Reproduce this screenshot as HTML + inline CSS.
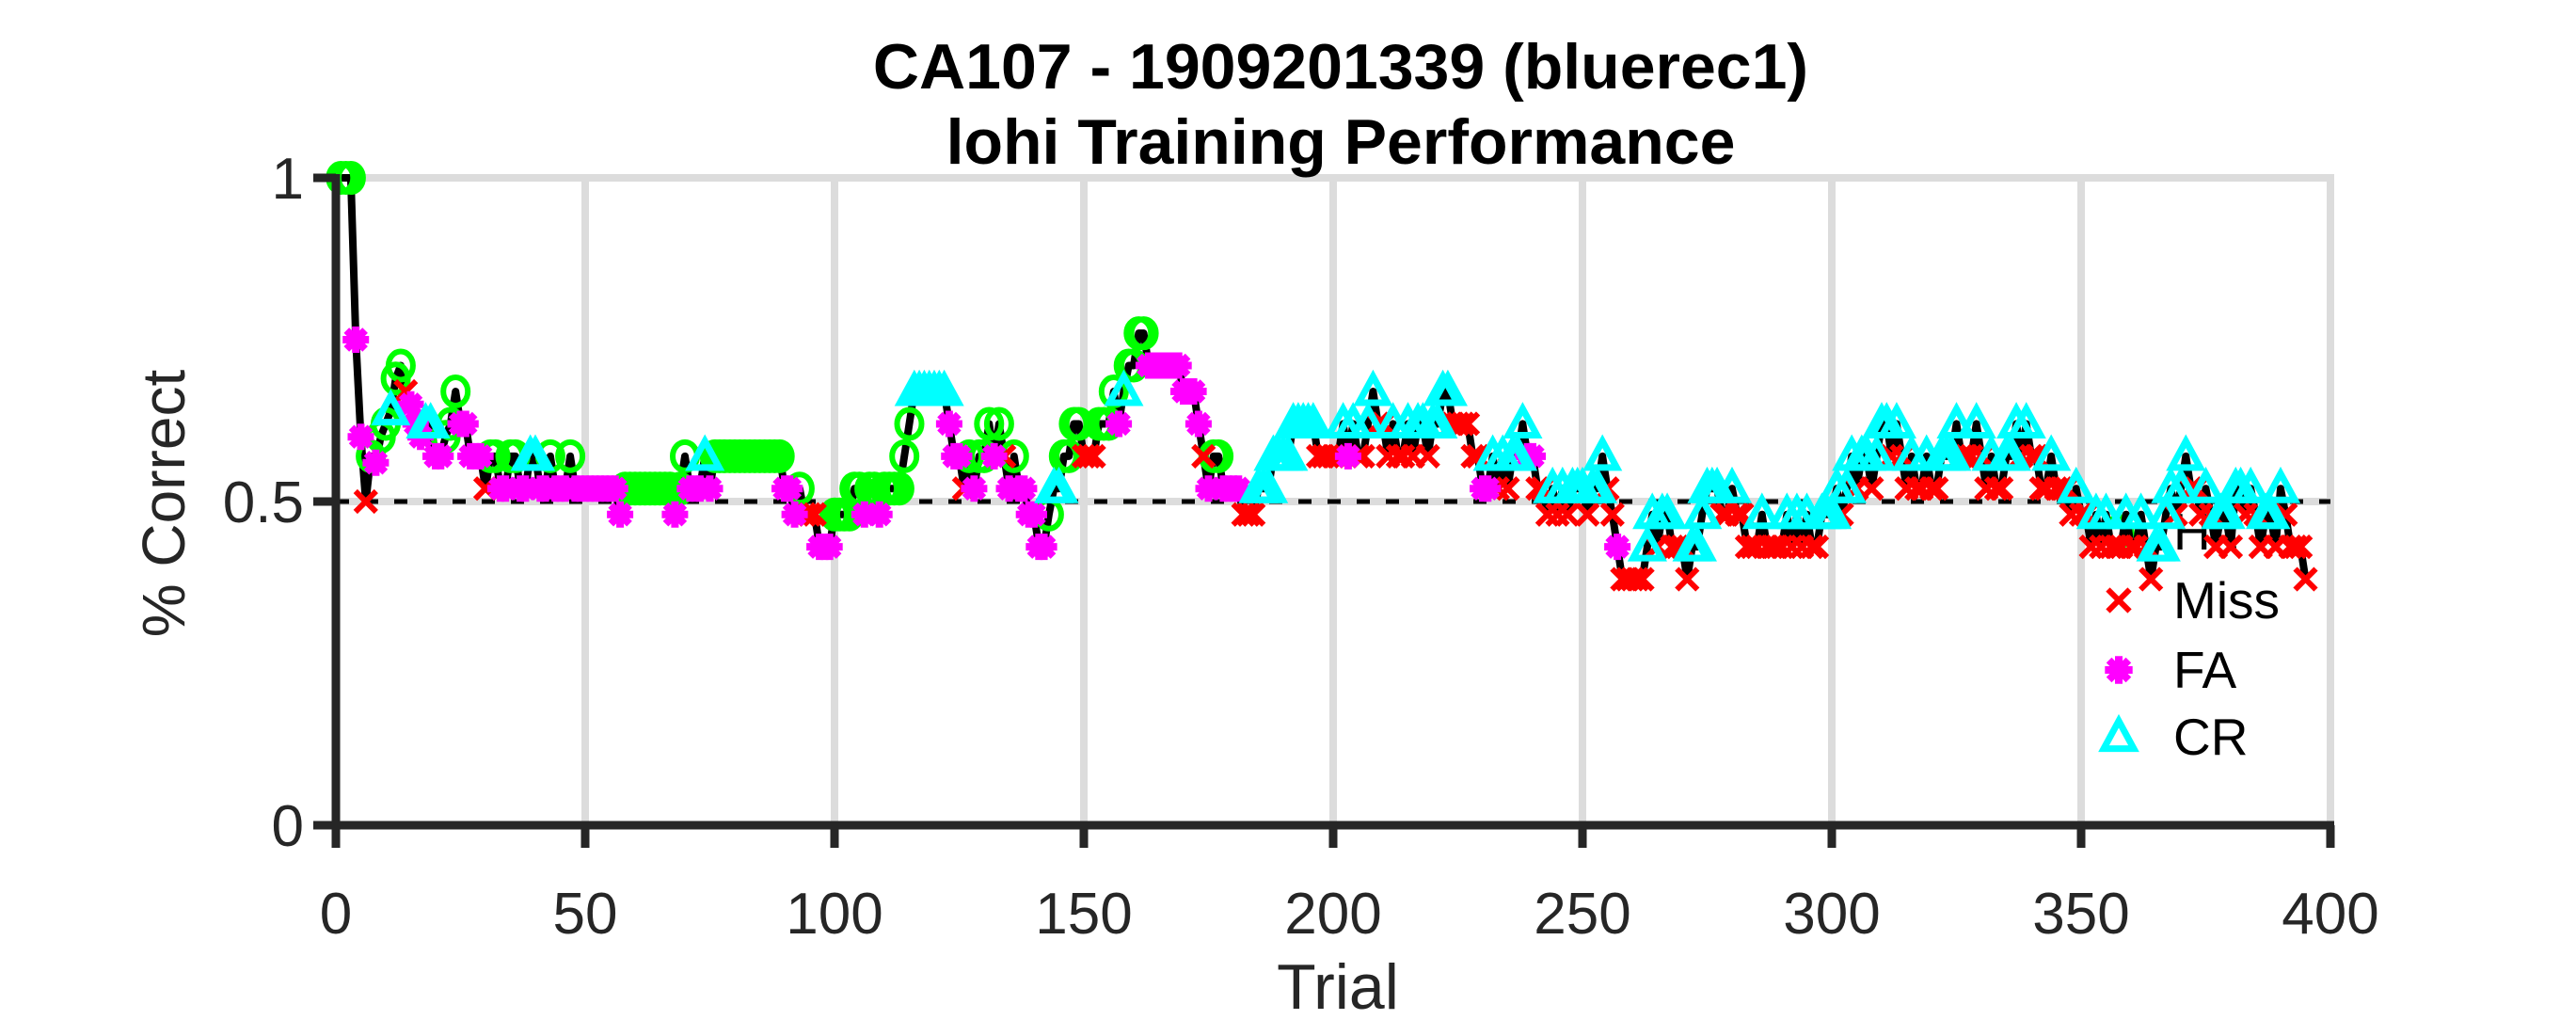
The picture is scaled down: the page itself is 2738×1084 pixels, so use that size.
<!DOCTYPE html>
<html><head><meta charset="utf-8"><style>
html,body{margin:0;padding:0;background:#fff;}
svg{display:block;}
text{font-family:"Liberation Sans",Arial,sans-serif;}
</style></head><body>
<svg id="chart" width="2738" height="1084" viewBox="0 0 2738 1084" xmlns="http://www.w3.org/2000/svg">
<rect x="0" y="0" width="2738" height="1084" fill="#fff"/>
<g id="grid"></g>
<g id="legend"></g>
<g id="data"></g>
<g id="axes"></g>
<text x="1425" y="94" text-anchor="middle" font-size="68" font-weight="bold" fill="#000">CA107 - 1909201339 (bluerec1)</text>
<text x="1425" y="174" text-anchor="middle" font-size="68" font-weight="bold" fill="#000">lohi Training Performance</text>
<text transform="translate(196,535) rotate(-90)" text-anchor="middle" font-size="64" fill="#262626">% Correct</text>
<text x="1422" y="1072" text-anchor="middle" font-size="68" fill="#262626">Trial</text>
</svg>
<script>
const xTicks = [0,50,100,150,200,250,300,350,400];
const yTicks = [0,0.5,1];
const yTickLabels = ["0","0.5","1"];
const legendLabels = ["Hit","Miss","FA","CR"];
const pctCorrect = [
1,1,1,.75,.6,.5,.57,.56,.6,.62,.64,.69,.71,.67,.65,.62,.6,.62,.62,.57,
.57,.6,.62,.67,.62,.62,.57,.57,.57,.52,.57,.57,.52,.52,.57,.57,.52,.52,.57,.57,
.52,.52,.57,.52,.52,.52,.57,.52,.52,.52,.52,.52,.52,.52,.52,.52,.48,.52,.52,.52,
.52,.52,.52,.52,.52,.52,.52,.48,.52,.57,.52,.52,.52,.57,.52,.57,.57,.57,.57,.57,
.57,.57,.57,.57,.57,.57,.57,.57,.57,.52,.52,.48,.52,.48,.48,.48,.43,.43,.43,.48,
.48,.48,.48,.52,.52,.48,.52,.52,.48,.52,.52,.52,.52,.57,.62,.67,.67,.67,.67,.67,
.67,.67,.62,.57,.57,.52,.57,.52,.57,.57,.62,.57,.62,.57,.52,.57,.52,.52,.48,.48,
.43,.43,.48,.52,.52,.57,.57,.62,.62,.57,.57,.57,.62,.62,.62,.67,.62,.67,.71,.71,
.76,.76,.71,.71,.71,.71,.71,.71,.71,.67,.67,.67,.62,.57,.52,.57,.57,.52,.52,.52,
.52,.48,.48,.48,.52,.52,.52,.57,.57,.57,.57,.62,.62,.62,.62,.62,.57,.57,.57,.57,
.57,.62,.57,.62,.57,.57,.62,.67,.62,.62,.57,.62,.57,.57,.62,.57,.62,.62,.57,.62,
.62,.67,.67,.62,.62,.62,.62,.57,.57,.52,.52,.57,.52,.57,.52,.57,.57,.62,.57,.57,
.52,.52,.48,.52,.48,.52,.48,.52,.52,.52,.48,.52,.52,.57,.52,.48,.43,.38,.38,.38,
.38,.38,.43,.48,.43,.48,.48,.43,.43,.43,.38,.43,.43,.48,.52,.52,.52,.48,.48,.52,
.48,.48,.43,.43,.43,.48,.43,.43,.43,.43,.48,.43,.48,.43,.48,.43,.43,.48,.48,.48,
.52,.48,.52,.57,.52,.57,.57,.52,.57,.62,.62,.57,.62,.57,.52,.57,.52,.52,.57,.52,
.52,.57,.57,.57,.62,.57,.57,.57,.62,.57,.52,.57,.52,.52,.57,.57,.62,.57,.62,.57,
.57,.52,.52,.57,.52,.52,.52,.48,.52,.48,.48,.43,.48,.43,.48,.43,.43,.43,.48,.43,
.43,.48,.43,.38,.43,.43,.48,.52,.48,.52,.57,.52,.52,.48,.52,.48,.43,.48,.48,.43,
.52,.52,.48,.52,.48,.43,.48,.48,.43,.52,.48,.43,.43,.43,.38
];
const chanceLevel = [0.5];

const NS = "http://www.w3.org/2000/svg";
const X0 = 357, X1 = 2477, Y0 = 877, Y1 = 189;
function xs(t){ return X0 + (t - 0) / (400 - 0) * (X1 - X0); }
function ys(v){ return Y0 - v * (Y0 - Y1); }
function mk(tag, attrs, parent){
  const e = document.createElementNS(NS, tag);
  for (const k in attrs) e.setAttribute(k, attrs[k]);
  parent.appendChild(e);
  return e;
}
const grid = document.getElementById('grid');
const axes = document.getElementById('axes');
const dataG = document.getElementById('data');
const legend = document.getElementById('legend');

xTicks.forEach(function(t){
  if (t === 0) return;
  const l = mk('line', {x1: xs(t), x2: xs(t), y1: Y1, y2: Y0, stroke: '#dcdcdc', 'stroke-width': 8}, grid);
  
  
});
yTicks.forEach(function(v){
  if (v === 0) return;
  const l = mk('line', {x1: X0, x2: X1 + 4, y1: ys(v), y2: ys(v), stroke: '#dcdcdc', 'stroke-width': 8}, grid);
  
  
});
chanceLevel.forEach(function(v){
  const l = mk('line', {x1: X0, x2: X1, y1: ys(v), y2: ys(v), stroke: '#000', 'stroke-width': 5, 'stroke-dasharray': '14 17'}, grid);
  
  
});

function drawMarker(type, cx, cy, parent, s){
  s = s || 1;
  let m;
  if (type === 'H') {
    m = mk('ellipse', {cx: cx, cy: cy, rx: 13*s, ry: 15*s, fill: 'none', stroke: '#00ff00', 'stroke-width': 6}, parent);
  } else if (type === 'M') {
    const d = 11*s;
    m = mk('path', {d: 'M'+(cx-d)+' '+(cy-d)+'L'+(cx+d)+' '+(cy+d)+'M'+(cx-d)+' '+(cy+d)+'L'+(cx+d)+' '+(cy-d), stroke: '#ff0000', 'stroke-width': 6, fill: 'none'}, parent);
  } else if (type === 'F') {
    const r = 14*s;
    let d = '';
    for (let k = 0; k < 4; k++) {
      const a = k * Math.PI / 4;
      d += 'M'+(cx-r*Math.cos(a))+' '+(cy-r*Math.sin(a))+'L'+(cx+r*Math.cos(a))+' '+(cy+r*Math.sin(a));
    }
    m = mk('path', {d: d, stroke: '#ff00ff', 'stroke-width': 8, fill: 'none'}, parent);
  } else {
    const r = 16*s;
    m = mk('polygon', {points: cx+','+(cy-r)+' '+(cx+r*0.95)+','+(cy+r*0.75)+' '+(cx-r*0.95)+','+(cy+r*0.75), fill: 'none', stroke: '#00ffff', 'stroke-width': 7}, parent);
  }
  return m;
}

const outcomes = [];
pctCorrect.forEach(function(v, i){
  const prev = i === 0 ? 0 : pctCorrect[i-1];
  const late = i >= 178;
  let o;
  if (v > prev) o = late ? 'C' : (i % 7 === 3 ? 'C' : 'H');
  else if (v < prev) o = late ? (i % 9 === 4 && i < 260 ? 'F' : 'M') : (i % 8 === 5 ? 'M' : 'F');
  else o = outcomes[i-1] || 'H';
  outcomes.push(o);
});

const legY = [565, 638, 712, 783];
legendLabels.forEach(function(lab, i){
  const type = ['H','M','F','C'][i];
  const m = drawMarker(type, 2252, legY[i], legend, 1.05);
  
  
  const t = mk('text', {x: 2310, y: legY[i] + 19, 'font-size': 55, fill: '#000'}, legend);
  t.textContent = lab;
  
  
});

let pts = pctCorrect.map(function(v, i){ return xs(i+1) + ',' + ys(v); }).join(' ');
const line = mk('polyline', {points: pts, fill: 'none', stroke: '#000', 'stroke-width': 8, 'stroke-linejoin': 'round'}, dataG);


['H','M','F','C'].forEach(function(type){
  pctCorrect.forEach(function(v, i){
    if (outcomes[i] !== type) return;
    const m = drawMarker(type, xs(i+1), ys(v), dataG, 1);
    
    
  });
});

const ya = mk('line', {x1: X0, x2: X0, y1: Y1 - 4, y2: Y0 + 4, stroke: '#262626', 'stroke-width': 9}, axes);


const xa = mk('line', {x1: X0 - 4, x2: X1 + 4, y1: Y0, y2: Y0, stroke: '#262626', 'stroke-width': 9}, axes);


xTicks.forEach(function(t){
  const tk = mk('line', {x1: xs(t), x2: xs(t), y1: Y0, y2: Y0 + 24, stroke: '#262626', 'stroke-width': 9}, axes);
  
  
  const lb = mk('text', {x: xs(t), y: 992, 'text-anchor': 'middle', 'font-size': 62, fill: '#262626'}, axes);
  lb.textContent = String(t);
  
  
});
yTicks.forEach(function(v, i){
  const tk = mk('line', {x1: X0 - 24, x2: X0, y1: ys(v), y2: ys(v), stroke: '#262626', 'stroke-width': 9}, axes);
  
  
  const lb = mk('text', {x: X0 - 34, y: ys(v) + 22, 'text-anchor': 'end', 'font-size': 62, fill: '#262626'}, axes);
  lb.textContent = yTickLabels[i];
  
  
});
</script>
</body></html>
